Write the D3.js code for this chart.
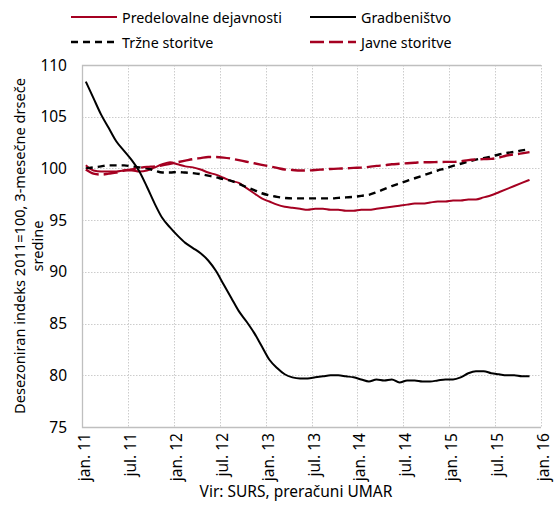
<!DOCTYPE html>
<html>
<head>
<meta charset="utf-8">
<script src="https://cdn.jsdelivr.net/npm/d3@7"></script>
<style>
  body { margin: 0; background: #fff; }
  svg { display: block; font-family: "Noto Sans", sans-serif; }
</style>
</head>
<body>
<svg id="chart" width="556" height="507"></svg>
<script>
// monthly values, jan. 2011 - nov. 2015 (3-month moving averages, 2011=100)
const predelovalne = [100.3, 99.8, 99.7, 99.7, 99.7, 99.8, 99.8, 99.7, 99.8, 100.1, 100.4, 100.6,
  100.4, 100.2, 100.1, 99.9, 99.6, 99.4, 99.1, 98.8, 98.6, 98.1, 97.6, 97.1,
  96.8, 96.5, 96.3, 96.2, 96.1, 96.0, 96.1, 96.1, 96.0, 96.0, 95.9, 95.9,
  96.0, 96.0, 96.1, 96.2, 96.3, 96.4, 96.5, 96.6, 96.6, 96.7, 96.8, 96.8,
  96.9, 96.9, 97.0, 97.0, 97.2, 97.4, 97.7, 98.0, 98.3, 98.6, 98.9];
const gradbenistvo = [108.4, 106.8, 105.2, 103.9, 102.6, 101.7, 100.8, 99.7, 98.2, 96.6, 95.2, 94.3,
  93.5, 92.8, 92.3, 91.8, 91.1, 90.1, 88.8, 87.5, 86.2, 85.2, 84.1, 82.8,
  81.5, 80.7, 80.1, 79.8, 79.7, 79.7, 79.8, 79.9, 80.0, 80.0, 79.9, 79.8,
  79.6, 79.4, 79.6, 79.5, 79.6, 79.3, 79.5, 79.5, 79.4, 79.4, 79.5, 79.6,
  79.6, 79.8, 80.2, 80.4, 80.4, 80.2, 80.1, 80.0, 80.0, 79.9, 79.9];
const trzne = [100.0, 100.1, 100.2, 100.3, 100.3, 100.3, 100.2, 100.1, 100.0, 99.8, 99.6, 99.6,
  99.65, 99.6, 99.55, 99.45, 99.3, 99.15, 98.95, 98.8, 98.5, 98.2, 97.9, 97.6,
  97.4, 97.25, 97.15, 97.1, 97.1, 97.1, 97.1, 97.1, 97.1, 97.15, 97.2, 97.25,
  97.35, 97.45, 97.7, 98.0, 98.3, 98.55, 98.8, 99.05, 99.3, 99.55, 99.8, 100.0,
  100.25, 100.45, 100.65, 100.85, 101.0, 101.15, 101.35, 101.5, 101.6, 101.75, 101.85];
const javne = [99.9, 99.5, 99.4, 99.5, 99.6, 99.8, 99.9, 100.05, 100.15, 100.2, 100.3, 100.45,
  100.6, 100.75, 100.9, 101.0, 101.1, 101.1, 101.05, 100.95, 100.8, 100.65, 100.5, 100.35,
  100.2, 100.05, 99.9, 99.85, 99.8, 99.8, 99.85, 99.9, 99.95, 99.98, 100.0, 100.05,
  100.08, 100.15, 100.25, 100.3, 100.4, 100.45, 100.5, 100.55, 100.6, 100.6, 100.62, 100.63,
  100.63, 100.7, 100.8, 100.86, 100.9, 100.92, 101.05, 101.25, 101.35, 101.45, 101.57];

const xTickLabels = ["jan. 11", "jul. 11", "jan. 12", "jul. 12", "jan. 13", "jul. 13",
  "jan. 14", "jul. 14", "jan. 15", "jul. 15", "jan. 16"];
const yTicks = [75, 80, 85, 90, 95, 100, 105, 110];

const red = "#a50021";
const series = [
  { name: "Predelovalne dejavnosti", values: predelovalne, color: red, dash: null, width: 2 },
  { name: "Gradbeništvo", values: gradbenistvo, color: "#000", dash: null, width: 2 },
  { name: "Tržne storitve", values: trzne, color: "#000", dash: "7,5", width: 2.4 },
  { name: "Javne storitve", values: javne, color: red, dash: "14,5", width: 2.4 }
];

const svg = d3.select("#chart");
const plotL = 82, plotR = 541, plotT = 65, plotB = 427;

// month index scale, points sit in the middle of each month
const x = d3.scaleLinear().domain([0, 60]).range([plotL, plotR]);
const y = d3.scaleLinear().domain([75, 110]).range([plotB, plotT]);

//grid
const grid = svg.append("g").attr("stroke", "#cccccc").attr("stroke-width", 1)
  .attr("stroke-dasharray", "1.5,1.5");
yTicks.filter(d => d > 75 && d < 110).forEach(d => {
  grid.append("line").attr("x1", plotL).attr("x2", plotR)
    .attr("y1", Math.round(y(d)) + 0.5).attr("y2", Math.round(y(d)) + 0.5);
});
xTickLabels.forEach((t, i) => {
  if (i === 0) return;
  const xx = Math.round(x(i * 6)) + 0.5;
  grid.append("line").attr("x1", xx).attr("x2", xx).attr("y1", plotT).attr("y2", plotB);
});

// axis frame
svg.append("path")
  .attr("d", `M${plotR},${plotT + 0.5}H${plotL + 0.5}V${plotB + 0.5}H${plotR}`)
  .attr("fill", "none").attr("stroke", "#bfbfbf").attr("stroke-width", 1.3);

// y tick labels
svg.append("g").selectAll("text").data(yTicks).enter().append("text")
  .attr("x", 67).attr("y", d => y(d) + 5.5)
  .attr("text-anchor", "end").attr("font-size", 15.5).attr("fill", "#000")
  .text(d => d);

// x tick labels
svg.append("g").selectAll("text").data(xTickLabels).enter().append("text")
  .attr("transform", (d, i) => `translate(${x(i * 6) + 8},${plotB + 6}) rotate(-90)`)
  .attr("text-anchor", "end").attr("font-size", 15.5).attr("fill", "#000")
  .text(d => d);

// y axis title
const yTitle = svg.append("text")
  .attr("transform", `translate(25,${(plotT + plotB) / 2}) rotate(-90)`)
  .attr("text-anchor", "middle").attr("font-size", 14.6).attr("fill", "#000");
yTitle.append("tspan").attr("x", 0).attr("dy", 0).text("Desezoniran indeks 2011=100, 3-mesečne drseče");
yTitle.append("tspan").attr("x", 0).attr("dy", 18).text("sredine");

// source
svg.append("text").attr("x", 296).attr("y", 497).attr("text-anchor", "middle")
  .attr("font-size", 15.5).attr("fill", "#000").text("Vir: SURS, preračuni UMAR");

// lines
const line = d3.line()
  .x((d, i) => x(i + 0.5))
  .y(d => y(d))
  .curve(d3.curveMonotoneX);

svg.append("g").selectAll("path").data(series).enter().append("path")
  .attr("d", d => line(d.values))
  .attr("fill", "none")
  .attr("stroke", d => d.color)
  .attr("stroke-width", d => d.width)
  .attr("stroke-dasharray", d => d.dash)
  .attr("stroke-linejoin", "round");

// legend
const legendPos = [[71, 17], [310, 17], [71, 42], [310, 42]];
const legend = svg.append("g").selectAll("g").data(series).enter().append("g")
  .attr("transform", (d, i) => `translate(${legendPos[i][0]},${legendPos[i][1]})`);
legend.append("line").attr("x1", 0).attr("x2", 46).attr("y1", 0).attr("y2", 0)
  .attr("stroke", d => d.color).attr("stroke-width", d => d.width)
  .attr("stroke-dasharray", d => d.dash);
legend.append("text").attr("x", 51).attr("y", 5.5)
  .attr("font-size", 14.3).attr("fill", "#000").text(d => d.name);
</script>
</body>
</html>
